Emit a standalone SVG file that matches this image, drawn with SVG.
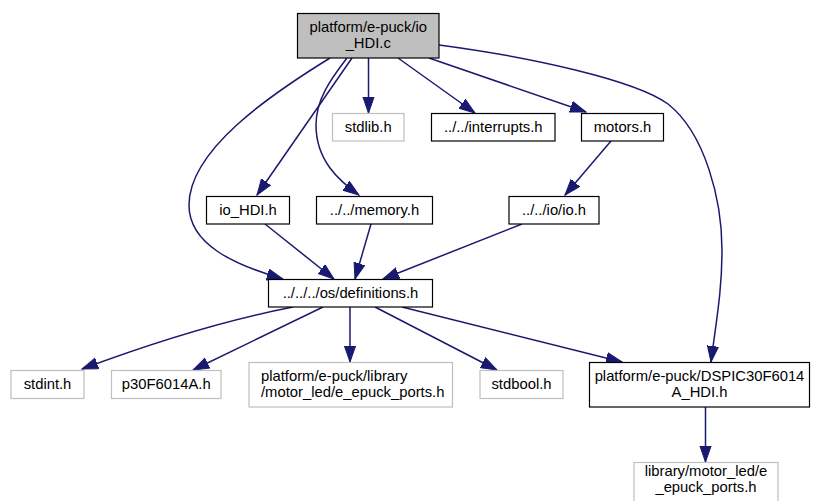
<svg xmlns="http://www.w3.org/2000/svg" width="814" height="501" viewBox="0 0 814 501">
<style>
.n{fill:#fff;stroke:#000;stroke-width:1.2}
.x{fill:#fff;stroke:#bfbfbf;stroke-width:1.2}
.r{fill:#bfbfbf;stroke:#000;stroke-width:1.2}
text{font-family:"Liberation Sans",Arial,sans-serif;font-size:14.8px;fill:#000;text-anchor:middle}
.e path{fill:none;stroke:#191970;stroke-width:1.5;marker-end:url(#a)}
</style>
<defs>
<marker id="a" markerUnits="userSpaceOnUse" markerWidth="18" markerHeight="14" refX="16" refY="6" orient="auto" viewBox="0 0 18 14">
<path d="M0,0.4 L16,6 L0,11.6 z" fill="#191970" stroke="#191970" stroke-width="1"/>
</marker>
</defs>
<g class="e" id="edges">
<path d="M368.5,58 L368.5,113"/>
<path d="M398,58 L475,113"/>
<path d="M429,58 L586,112"/>
<path d="M439,45 C530,57 635,80 668,104 C705,133 722,200 722,250 C722,292 716,322 711,362"/>
<path d="M352,58 L257,195"/>
<path d="M347,58 C330,80 316,100 316,125 C316,160 338,180 359,195"/>
<path d="M330,58 C270,95 189,150 189,205 C189,245 235,265 283,279"/>
<path d="M611,141 L565,195"/>
<path d="M265,224 L334,279"/>
<path d="M371,224 L355,279"/>
<path d="M522,224 L383,279"/>
<path d="M293,307 Q200,325 82,369"/>
<path d="M323,307 L193,370"/>
<path d="M350,307 L350,362"/>
<path d="M375,307 L497,370"/>
<path d="M402,307 L622,362"/>
<path d="M705.5,407 L705.5,462"/>
</g>
<g id="root"><rect class="r" x="297.5" y="13.5" width="141.5" height="44.5"/><text x="368.25" y="31.5">platform/e-puck/io</text><text x="368.25" y="48">_HDI.c</text></g>
<g id="stdlib"><rect class="x" x="332.5" y="113.5" width="71.5" height="27.5"/><text x="368.25" y="132">stdlib.h</text></g>
<g id="interrupts"><rect class="n" x="431.5" y="113.5" width="123.5" height="27.5"/><text x="493.25" y="132">../../interrupts.h</text></g>
<g id="motors"><rect class="n" x="581.5" y="113.5" width="82" height="27.5"/><text x="622.5" y="132">motors.h</text></g>
<g id="io_hdi"><rect class="n" x="206.5" y="196.5" width="83" height="27.5"/><text x="248" y="215">io_HDI.h</text></g>
<g id="memory"><rect class="n" x="316.5" y="196.5" width="116" height="27.5"/><text x="374.5" y="215">../../memory.h</text></g>
<g id="io"><rect class="n" x="509" y="196.5" width="90" height="27.5"/><text x="554" y="215">../../io/io.h</text></g>
<g id="definitions"><rect class="n" x="268.5" y="279.5" width="164" height="27.5"/><text x="350.5" y="298">../../../os/definitions.h</text></g>
<g id="stdint"><rect class="x" x="11" y="370.5" width="73" height="28"/><text x="47.5" y="389">stdint.h</text></g>
<g id="p30f"><rect class="x" x="111.5" y="370.5" width="109.5" height="28"/><text x="166.25" y="389">p30F6014A.h</text></g>
<g id="ports"><rect class="x" x="249" y="362.5" width="203.5" height="44.5"/><text x="261" y="381" style="text-anchor:start">platform/e-puck/library</text><text x="261" y="397" style="text-anchor:start">/motor_led/e_epuck_ports.h</text></g>
<g id="stdbool"><rect class="x" x="480" y="370.5" width="83" height="28"/><text x="521.5" y="389">stdbool.h</text></g>
<g id="dspic"><rect class="n" x="589.5" y="362.5" width="220" height="44.5"/><text x="699.5" y="381">platform/e-puck/DSPIC30F6014</text><text x="699.5" y="397">A_HDI.h</text></g>
<g id="libports"><rect class="x" x="634" y="462.5" width="144" height="44.5"/><text x="706" y="476">library/motor_led/e</text><text x="706" y="492">_epuck_ports.h</text></g>
</svg>
